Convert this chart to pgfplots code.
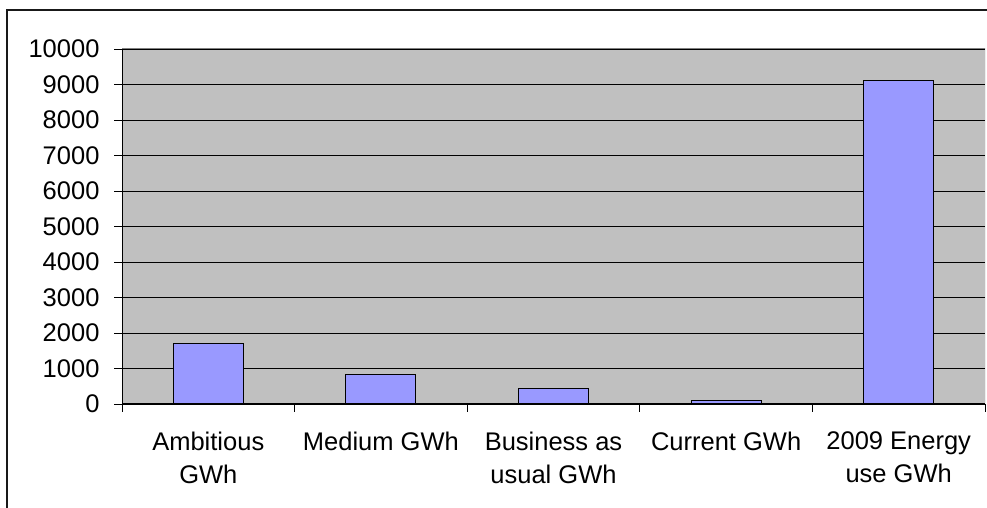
\documentclass[border=0pt]{standalone}
\usepackage{pgfplots}
\pgfplotsset{compat=1.18}
\usepackage{fontspec}
\setmainfont{Liberation Sans}
\definecolor{plotbg}{HTML}{C0C0C0}
\definecolor{barfill}{HTML}{9999FF}
\definecolor{boxgray}{HTML}{808080}
\begin{document}
\begin{tikzpicture}[x=1pt,y=1pt]
% page extent and outer chart frame
\path[use as bounding box] (0,0) rectangle (987,508);
\draw[line width=2pt,color=black!90] (7,0) -- (7,498) -- (987,498);
\begin{axis}[
  at={(122pt,104pt)}, anchor=south west,
  scale only axis, width=863pt, height=355pt,
  xmin=-0.5, xmax=4.5, ymin=0, ymax=10000,
  ytick={0,1000,...,10000},
  scaled y ticks=false,
  xtick={0,1,2,3,4},
  xticklabels={{Ambitious\\GWh},{Medium GWh},{Business as\\usual GWh},{Current GWh},{2009 Energy\\use GWh}},
  minor xtick={-0.5,0.5,1.5,2.5,3.5,4.5},
  major x tick style={draw=none},
  tick align=outside,
  major tick length=8pt, minor tick length=8pt,
  tick style={black, line width=0.8pt},
  xtick pos=bottom, ytick pos=left,
  axis line style={draw=none},
  axis background/.style={fill=plotbg},
  ymajorgrids, grid style={black, line width=0.8pt},
  /pgf/number format/assume math mode=true,
  /pgf/number format/1000 sep={},
  /pgf/number format/fixed,
  ticklabel style={font=\fontsize{25.5}{33}\selectfont, text=black},
  xticklabel style={align=center, anchor=north, yshift=-16pt},
  yticklabel style={anchor=east, xshift=-11pt},
  ybar, bar width=70pt,
]
\addplot[fill=barfill, draw=black, line width=1pt] coordinates {
  (0,1710) (1,817) (2,442) (3,93) (4,9105)
};
\draw[boxgray, line width=1pt] (rel axis cs:0,1) -- (rel axis cs:1,1) -- (rel axis cs:1,0);
\draw[black, line width=1pt] (rel axis cs:0,1) -- (rel axis cs:0,0) -- (rel axis cs:1,0);
\end{axis}
\end{tikzpicture}
\end{document}
